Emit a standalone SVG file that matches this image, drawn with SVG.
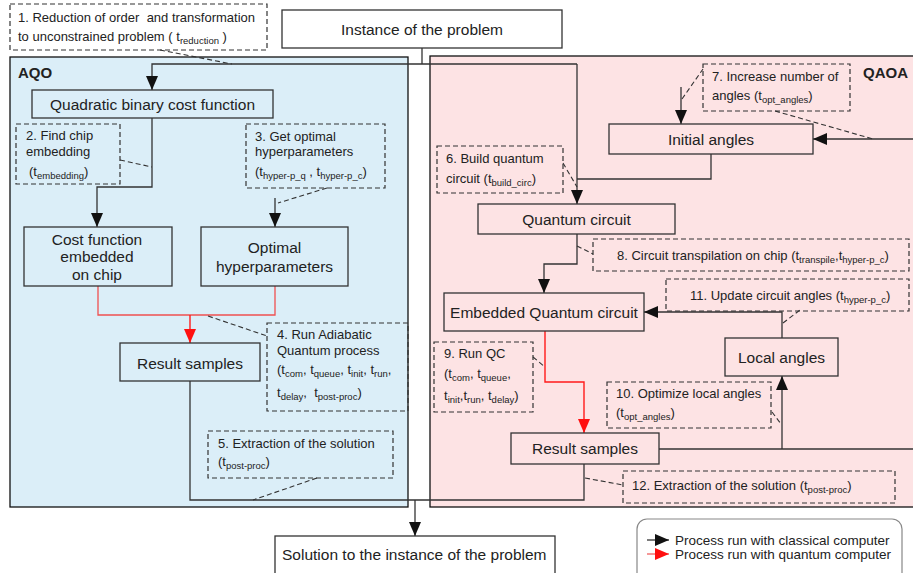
<svg xmlns="http://www.w3.org/2000/svg" width="913" height="573" viewBox="0 0 913 573">
<style>
text{font-family:"Liberation Sans",Arial,sans-serif;fill:#222}
.n{font-size:15.5px;text-anchor:middle}
.a{font-size:13px}
.s{font-size:9.5px}
.b{font-size:15px;font-weight:bold}
.pre{white-space:pre}
.box{fill:none;stroke:#333;stroke-width:1.3}
.dbox{fill:none;stroke:#333;stroke-width:1.2;stroke-dasharray:5,3}
.ln{fill:none;stroke:#333;stroke-width:1.3}
.rl{fill:none;stroke:#f05050;stroke-width:1.3}
.ra{fill:none;stroke:#ff1a1a;stroke-width:1.4}
.dl{fill:none;stroke:#333;stroke-width:1.1;stroke-dasharray:5,3}
</style>
<defs>
<marker id="ab" markerUnits="userSpaceOnUse" markerWidth="14" markerHeight="12" refX="14" refY="6" orient="auto"><path d="M0,0 L14,6 L0,12 z" fill="#111"/></marker>
<marker id="ar" markerUnits="userSpaceOnUse" markerWidth="14" markerHeight="12" refX="14" refY="6" orient="auto"><path d="M0,0 L14,6 L0,12 z" fill="#ff1010"/></marker>
</defs>
<rect width="913" height="573" fill="#fff"/>
<g id="panel-aqo"><rect x="10" y="57" width="398" height="450" fill="#dbeef8" stroke="#111" stroke-width="1.3"/><text class="b" x="18" y="78">AQO</text></g>
<g id="panel-qaoa"><rect x="430" y="56" width="490" height="451" fill="#fde3e4" stroke="#111" stroke-width="1.3"/><text class="b" x="863" y="78">QAOA</text></g>

<g id="connectors">
<path class="ln" d="M422,48 V64"/>
<path class="ln" d="M577,64 H152 V90" marker-end="url(#ab)"/>
<path class="ln" d="M577,64 V204" marker-end="url(#ab)"/>
<path class="ln" d="M152,118 V187 H97 V227" marker-end="url(#ab)"/>
<path class="ln" d="M275,198 V227" marker-end="url(#ab)"/>
<path class="rl" d="M98,286 V315 H275 V286"/>
<path class="ra" d="M190,315 V343" marker-end="url(#ar)"/>
<path class="ln" d="M190,381 V500 H584 V464"/>
<path class="ln" d="M415,500 V536" marker-end="url(#ab)"/>
<path class="ln" d="M681,87 V124" marker-end="url(#ab)"/>
<path class="ln" d="M913,139 H813" marker-end="url(#ab)"/>
<path class="ln" d="M711,154 V179 H577"/>
<path class="ln" d="M577,234 V264 H544 V293" marker-end="url(#ab)"/>
<path class="ln" d="M782,338 V312 H644" marker-end="url(#ab)"/>
<path class="ra" d="M545,331 V382 H584 V433" marker-end="url(#ar)"/>
<path class="ln" d="M659,449 H913"/>
<path class="ln" d="M782,449 V376" marker-end="url(#ab)"/>
<path class="dl" d="M160,50 L232,64"/>
<path class="dl" d="M120,160 L152,167"/>
<path class="dl" d="M327,188 L278,203"/>
<path class="dl" d="M208,316 L267,336"/>
<path class="dl" d="M317,478 L253,500"/>
<path class="dl" d="M682,99 L703,69"/>
<path class="dl" d="M775,111 L873,139"/>
<path class="dl" d="M563,163 L577,187"/>
<path class="dl" d="M577,246 L593,254"/>
<path class="dl" d="M783,323 L800,310"/>
<path class="dl" d="M533,357 L545,367"/>
<path class="dl" d="M772,412 L781,424"/>
<path class="dl" d="M585,478 L623,485"/>
</g>

<g id="note1"><rect class="dbox" x="10" y="4" width="257" height="46" fill="#fff"/><text class="a pre" x="18" y="22" xml:space="preserve">1. Reduction of order  and transformation</text><text class="a" x="18" y="41">to unconstrained problem ( t<tspan class="s" dy="3">reduction</tspan><tspan dy="-3"> )</tspan></text></g>
<g id="instance"><rect class="box" x="282" y="10" width="280" height="38" fill="#fff"/><text class="n" x="422" y="35">Instance of the problem</text></g>
<g id="qbcf"><rect class="box" x="32" y="90" width="241" height="28"/><text class="n" x="152.5" y="109.5">Quadratic binary cost function</text></g>
<g id="note2"><rect class="dbox" x="16" y="124" width="104" height="60"/><text class="a" x="26" y="140">2. Find chip</text><text class="a" x="26" y="156">embedding</text><text class="a" x="29" y="176">(t<tspan class="s" dy="3">embedding</tspan><tspan dy="-3">)</tspan></text></g>
<g id="note3"><rect class="dbox" x="246" y="124" width="139" height="64"/><text class="a" x="255" y="141">3. Get optimal</text><text class="a" x="255" y="156">hyperparameters</text><text class="a" x="255" y="176">(t<tspan class="s" dy="3">hyper-p_q</tspan><tspan dy="-3"> , t</tspan><tspan class="s" dy="3">hyper-p_c</tspan><tspan dy="-3">)</tspan></text></g>
<g id="costemb"><rect class="box" x="24" y="227" width="148" height="59"/><text class="n" x="97" y="245">Cost function</text><text class="n" x="97" y="262">embedded</text><text class="n" x="97" y="280">on chip</text></g>
<g id="opthyp"><rect class="box" x="201" y="227" width="147" height="59"/><text class="n" x="274.5" y="253">Optimal</text><text class="n" x="274.5" y="272">hyperparameters</text></g>
<g id="res-aqo"><rect class="box" x="120" y="343" width="140" height="38"/><text class="n" x="190" y="369">Result samples</text></g>
<g id="note4"><rect class="dbox" x="267" y="323" width="141" height="88"/><text class="a" x="277" y="339">4. Run Adiabatic</text><text class="a" x="277" y="355">Quantum process</text><text class="a" x="277" y="374">(t<tspan class="s" dy="3">com</tspan><tspan dy="-3">, t</tspan><tspan class="s" dy="3">queue</tspan><tspan dy="-3">, t</tspan><tspan class="s" dy="3">init</tspan><tspan dy="-3">, t</tspan><tspan class="s" dy="3">run</tspan><tspan dy="-3">,</tspan></text><text class="a pre" x="277" y="397" xml:space="preserve">t<tspan class="s" dy="3">delay</tspan><tspan dy="-3">,  t</tspan><tspan class="s" dy="3">post-proc</tspan><tspan dy="-3">)</tspan></text></g>
<g id="note5"><rect class="dbox" x="208" y="431" width="185" height="47"/><text class="a" x="218" y="448">5. Extraction of the solution</text><text class="a" x="218" y="466">(t<tspan class="s" dy="3">post-proc</tspan><tspan dy="-3">)</tspan></text></g>
<g id="solution"><rect class="box" x="275" y="536" width="280" height="45" fill="#fff"/><text class="n" x="282" y="560" style="text-anchor:start">Solution to the instance of the problem</text></g>

<g id="note7"><rect class="dbox" x="703" y="64" width="147" height="47"/><text class="a" x="712" y="81">7. Increase number of</text><text class="a" x="712" y="100">angles (t<tspan class="s" dy="3">opt_angles</tspan><tspan dy="-3">)</tspan></text></g>
<g id="initang"><rect class="box" x="609" y="124" width="204" height="30"/><text class="n" x="711" y="145">Initial angles</text></g>
<g id="note6"><rect class="dbox" x="437" y="146" width="126" height="47"/><text class="a" x="446" y="163">6. Build quantum</text><text class="a" x="446" y="183">circuit (t<tspan class="s" dy="3">build_circ</tspan><tspan dy="-3">)</tspan></text></g>
<g id="qcirc"><rect class="box" x="478" y="204" width="197" height="30"/><text class="n" x="576.5" y="225">Quantum circuit</text></g>
<g id="note8"><rect class="dbox" x="593" y="239" width="316" height="32"/><text class="a" x="617" y="260">8. Circuit transpilation on chip (t<tspan class="s" dy="3">transpile</tspan><tspan dy="-3">,t</tspan><tspan class="s" dy="3">hyper-p_c</tspan><tspan dy="-3">)</tspan></text></g>
<g id="embqc"><rect class="box" x="444" y="293" width="200" height="38"/><text class="n" x="544" y="318">Embedded Quantum circuit</text></g>
<g id="note11"><rect class="dbox" x="666" y="279" width="243" height="32"/><text class="a" x="690" y="300">11. Update circuit angles (t<tspan class="s" dy="3">hyper-p_c</tspan><tspan dy="-3">)</tspan></text></g>
<g id="localang"><rect class="box" x="725" y="338" width="113" height="38"/><text class="n" x="781.5" y="363">Local angles</text></g>
<g id="note9"><rect class="dbox" x="434" y="342" width="99" height="70"/><text class="a" x="444" y="358">9. Run QC</text><text class="a" x="444" y="378">(t<tspan class="s" dy="3">com</tspan><tspan dy="-3">, t</tspan><tspan class="s" dy="3">queue</tspan><tspan dy="-3">,</tspan></text><text class="a" x="444" y="400">t<tspan class="s" dy="3">init</tspan><tspan dy="-3">,t</tspan><tspan class="s" dy="3">run</tspan><tspan dy="-3">, t</tspan><tspan class="s" dy="3">delay</tspan><tspan dy="-3">)</tspan></text></g>
<g id="note10"><rect class="dbox" x="607" y="382" width="164" height="46"/><text class="a" x="616" y="398">10. Optimize local angles</text><text class="a" x="616" y="417">(t<tspan class="s" dy="3">opt_angles</tspan><tspan dy="-3">)</tspan></text></g>
<g id="res-qaoa"><rect class="box" x="511" y="433" width="148" height="31"/><text class="n" x="585" y="454">Result samples</text></g>
<g id="note12"><rect class="dbox" x="623" y="471" width="272" height="32"/><text class="a" x="632" y="490">12. Extraction of the solution (t<tspan class="s" dy="3">post-proc</tspan><tspan dy="-3">)</tspan></text></g>

<g id="legend"><rect x="637" y="519" width="265" height="70" rx="10" fill="#fff" stroke="#888" stroke-width="1.2"/>
<path d="M647,540 H669" stroke="#333" stroke-width="1.3" marker-end="url(#ab)"/>
<path d="M647,554 H669" stroke="#f06060" stroke-width="1.3" marker-end="url(#ar)"/>
<text x="675" y="545" style="font-size:13.5px">Process run with classical computer</text>
<text x="675" y="559" style="font-size:13.5px">Process run with quantum computer</text></g>
</svg>
